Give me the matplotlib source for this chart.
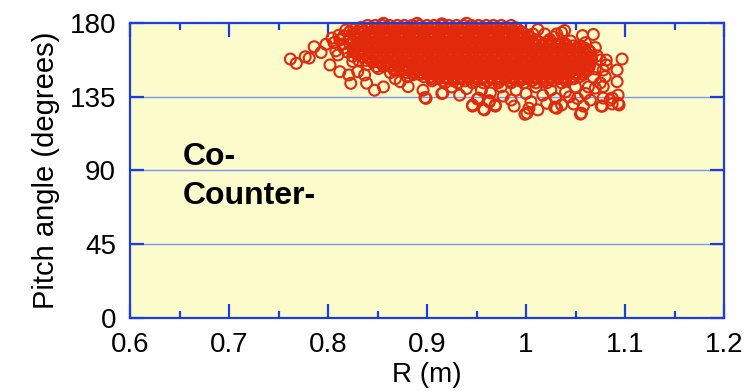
"""
plot.py - pitch angle vs major radius scatter (Co-/Counter- labels).
Saves out.png (753x391).
"""

import numpy as np
import matplotlib
matplotlib.use("Agg")
import matplotlib.pyplot as plt

plt.rcParams["font.family"] = ["Liberation Sans", "DejaVu Sans"]

# -----------------------------------------------------------------------
# Dense core of the cloud: one pitch value per row, R values read per row
CORE_PITCH = [178.5, 177.2, 176, 174.7, 173.5, 172.2, 171, 169.7, 168.5,
              167.2, 166, 164.7, 163.5, 162.2, 161, 159.7, 158.5, 157.2,
              156, 154.7, 153.5, 152.2, 151, 149.7, 148.5, 147.2, 146,
              144.7, 143.5]
CORE_R = [
    # 178.5
    [0.840, 0.848, 0.855, 0.862, 0.870, 0.877, 0.885, 0.892, 0.900, 0.907,
     0.915, 0.922, 0.930, 0.937, 0.945, 0.952, 0.960, 0.967, 0.975, 0.985],
    # 177.2
    [0.833, 0.844, 0.851, 0.859, 0.866, 0.874, 0.881, 0.889, 0.896, 0.904,
     0.911, 0.919, 0.926, 0.934, 0.941, 0.949, 0.956, 0.964, 0.971, 0.979,
     0.989],
    # 176
    [0.826, 0.834, 0.841, 0.849, 0.856, 0.864, 0.871, 0.879, 0.886, 0.894,
     0.901, 0.909, 0.916, 0.924, 0.931, 0.939, 0.946, 0.954, 0.961, 0.969,
     0.976, 0.984, 0.992],
    # 174.7
    [0.822, 0.830, 0.837, 0.845, 0.852, 0.860, 0.867, 0.875, 0.882, 0.890,
     0.897, 0.905, 0.912, 0.920, 0.927, 0.935, 0.942, 0.950, 0.957, 0.965,
     0.972, 0.980, 0.987, 0.995],
    # 173.5
    [0.826, 0.833, 0.841, 0.848, 0.856, 0.863, 0.871, 0.878, 0.886,
     0.893, 0.901, 0.908, 0.916, 0.923, 0.931, 0.938, 0.946, 0.953, 0.961,
     0.968, 0.976, 0.983, 0.991, 0.998],
    # 172.2
    [0.816, 0.829, 0.837, 0.844, 0.852, 0.859, 0.867, 0.874, 0.882,
     0.889, 0.897, 0.904, 0.912, 0.919, 0.927, 0.934, 0.942, 0.949, 0.957,
     0.964, 0.972, 0.979, 0.987, 0.994, 1.002],
    # 171
    [0.822, 0.830, 0.837, 0.845, 0.852, 0.860, 0.867, 0.875, 0.882,
     0.890, 0.897, 0.905, 0.912, 0.920, 0.927, 0.935, 0.942, 0.950, 0.957,
     0.965, 0.972, 0.980, 0.987, 0.995, 1.004],
    # 169.7
    [0.812, 0.822, 0.829, 0.837, 0.844, 0.852, 0.859, 0.867, 0.874, 0.882,
     0.889, 0.897, 0.904, 0.912, 0.919, 0.927, 0.934, 0.942, 0.949, 0.957,
     0.964, 0.972, 0.979, 0.987, 0.994, 1.002, 1.010],
    # 168.5
    [0.826, 0.833, 0.841, 0.848, 0.856, 0.863, 0.871, 0.878, 0.886,
     0.893, 0.901, 0.908, 0.916, 0.923, 0.931, 0.938, 0.946, 0.953, 0.961,
     0.968, 0.976, 0.983, 0.991, 0.998, 1.006, 1.013, 1.021],
    # 167.2
    [0.815, 0.822, 0.829, 0.837, 0.844, 0.852, 0.859, 0.867, 0.874, 0.882,
     0.889, 0.897, 0.904, 0.912, 0.919, 0.927, 0.934, 0.942, 0.949, 0.957,
     0.964, 0.972, 0.979, 0.987, 0.994, 1.002, 1.009, 1.017, 1.024, 1.032,
     1.040],
    # 166
    [0.830, 0.837, 0.845, 0.852, 0.860, 0.867, 0.875, 0.882,
     0.890, 0.897, 0.905, 0.912, 0.920, 0.927, 0.935, 0.942, 0.950, 0.957,
     0.965, 0.972, 0.980, 0.987, 0.995, 1.002, 1.010, 1.017, 1.025, 1.032,
     1.040, 1.047, 1.055],
    # 164.7
    [0.816, 0.826, 0.833, 0.841, 0.848, 0.856, 0.863, 0.871, 0.878, 0.886,
     0.893, 0.901, 0.908, 0.916, 0.923, 0.931, 0.938, 0.946, 0.953, 0.961,
     0.968, 0.976, 0.983, 0.991, 0.998, 1.006, 1.013, 1.021, 1.028, 1.036,
     1.043, 1.051, 1.059],
    # 163.5
    [0.826, 0.833, 0.841, 0.848, 0.856, 0.863, 0.871, 0.878, 0.886,
     0.893, 0.901, 0.908, 0.916, 0.923, 0.931, 0.938, 0.946, 0.953, 0.961,
     0.968, 0.976, 0.983, 0.991, 0.998, 1.006, 1.013, 1.021, 1.028, 1.036,
     1.043, 1.051, 1.058, 1.063],
    # 162.2
    [0.820, 0.826, 0.833, 0.841, 0.848, 0.856, 0.863, 0.871, 0.878, 0.886,
     0.893, 0.901, 0.908, 0.916, 0.923, 0.931, 0.938, 0.946, 0.953, 0.961,
     0.968, 0.976, 0.983, 0.991, 0.998, 1.006, 1.013, 1.021, 1.028, 1.036,
     1.043, 1.051, 1.058, 1.065],
    # 161
    [0.830, 0.837, 0.845, 0.852, 0.860, 0.867, 0.875, 0.882, 0.890,
     0.897, 0.905, 0.912, 0.920, 0.927, 0.935, 0.942, 0.950, 0.957, 0.965,
     0.972, 0.980, 0.987, 0.995, 1.002, 1.010, 1.017, 1.025, 1.032, 1.040,
     1.047, 1.055, 1.062],
    # 159.7
    [0.825, 0.834, 0.841, 0.849, 0.856, 0.864, 0.871, 0.879, 0.886, 0.894,
     0.901, 0.909, 0.916, 0.924, 0.931, 0.939, 0.946, 0.954, 0.961, 0.969,
     0.976, 0.984, 0.991, 0.999, 1.006, 1.014, 1.021, 1.029, 1.036, 1.044,
     1.051, 1.059, 1.066],
    # 158.5
    [0.841, 0.848, 0.856, 0.863, 0.871, 0.878, 0.886, 0.893,
     0.901, 0.908, 0.916, 0.923, 0.931, 0.938, 0.946, 0.953, 0.961, 0.968,
     0.976, 0.983, 0.991, 0.998, 1.006, 1.013, 1.021, 1.028, 1.036, 1.043,
     1.051, 1.058, 1.066],
    # 157.2
    [0.831, 0.838, 0.845, 0.852, 0.860, 0.867, 0.875, 0.882, 0.890, 0.897,
     0.905, 0.912, 0.920, 0.927, 0.935, 0.942, 0.950, 0.957, 0.965, 0.972,
     0.980, 0.987, 0.995, 1.002, 1.010, 1.017, 1.025, 1.032, 1.040, 1.047,
     1.055, 1.062, 1.066],
    # 156
    [0.845, 0.852, 0.860, 0.867, 0.875, 0.882, 0.890, 0.897, 0.905,
     0.912, 0.920, 0.927, 0.935, 0.942, 0.950, 0.957, 0.965, 0.972, 0.980,
     0.987, 0.995, 1.002, 1.010, 1.017, 1.025, 1.032, 1.040, 1.047, 1.055,
     1.062],
    # 154.7
    [0.840, 0.856, 0.864, 0.871, 0.879, 0.886, 0.894, 0.901, 0.909,
     0.916, 0.924, 0.931, 0.939, 0.946, 0.954, 0.961, 0.969, 0.976, 0.984,
     0.991, 0.999, 1.006, 1.014, 1.021, 1.029, 1.036, 1.044, 1.051, 1.059,
     1.064],
    # 153.5
    [0.856, 0.863, 0.871, 0.878, 0.886, 0.893, 0.901, 0.908, 0.916,
     0.923, 0.931, 0.938, 0.946, 0.953, 0.961, 0.968, 0.976, 0.983, 0.991,
     0.998, 1.006, 1.013, 1.021, 1.028, 1.036, 1.043, 1.051, 1.058, 1.064],
    # 152.2
    [0.851, 0.867, 0.875, 0.882, 0.890, 0.897, 0.905, 0.912, 0.920,
     0.927, 0.935, 0.942, 0.950, 0.957, 0.965, 0.972, 0.980, 0.987, 0.995,
     1.002, 1.010, 1.017, 1.025, 1.032, 1.040, 1.047, 1.055, 1.062],
    # 151
    [0.867, 0.875, 0.882, 0.890, 0.897, 0.905, 0.912, 0.920, 0.927,
     0.935, 0.942, 0.950, 0.957, 0.965, 0.972, 0.980, 0.987, 0.995, 1.002,
     1.010, 1.017, 1.025, 1.032, 1.040, 1.047, 1.055, 1.062],
    # 149.7
    [0.863, 0.879, 0.886, 0.894, 0.901, 0.909, 0.916, 0.924, 0.931,
     0.939, 0.946, 0.954, 0.961, 0.969, 0.976, 0.984, 0.991, 0.999, 1.006,
     1.014, 1.021, 1.029, 1.036, 1.044, 1.051, 1.059],
    # 148.5
    [0.886, 0.893, 0.901, 0.908, 0.916, 0.923, 0.931, 0.938,
     0.946, 0.953, 0.961, 0.968, 0.976, 0.983, 0.991, 0.998, 1.006, 1.013,
     1.021, 1.028, 1.036, 1.043, 1.051, 1.058],
    # 147.2
    [0.880, 0.897, 0.904, 0.912, 0.919, 0.927, 0.934, 0.942, 0.949,
     0.957, 0.964, 0.972, 0.979, 0.987, 0.994, 1.002, 1.009, 1.017, 1.024,
     1.032, 1.039, 1.047, 1.054],
    # 146
    [0.905, 0.912, 0.920, 0.927, 0.935, 0.942, 0.950, 0.957,
     0.965, 0.972, 0.980, 0.987, 0.995, 1.002, 1.010, 1.017, 1.025, 1.032,
     1.040, 1.048],
    # 144.7
    [0.905, 0.916, 0.927, 0.938, 0.949, 0.961, 0.972, 0.983, 0.994, 1.006,
     1.017, 1.028, 1.040],
    # 143.5
    [0.918, 0.931, 0.946, 0.957, 0.972, 0.985, 0.998, 1.010, 1.021, 1.036],
]

# Scattered circles around the core
OUT_R = [
    0.762, 0.768, 0.777, 0.781, 0.786, 0.793, 0.798, 0.802, 0.804, 0.808,
    0.812, 0.818, 0.821, 0.823, 0.825, 0.830, 0.837, 0.839, 0.847, 0.849,
    0.856, 0.856, 0.890, 0.915, 0.940,
    0.873, 0.881, 0.868, 0.896, 0.898, 0.899, 0.915, 0.916, 0.933, 0.946,
    0.946, 0.951, 0.952, 0.957, 0.958, 0.963, 0.963, 0.964, 0.969, 0.969,
    0.977, 0.988, 0.999, 1.001, 1.003, 1.012, 1.017, 1.021, 1.029, 1.031,
    1.036, 1.044, 1.048, 1.052, 1.055, 1.056, 1.058, 1.065, 1.070, 1.075,
    1.076, 1.077, 1.078, 1.078, 1.078, 1.075, 1.080, 1.081, 1.085, 1.087,
    1.087, 1.092, 1.092, 1.093, 1.093, 1.094, 1.097, 1.081,
    1.007, 1.019, 1.031, 1.039, 1.036, 1.057, 1.068, 1.045, 1.060, 1.070,
    1.072, 1.070, 1.068, 1.063,
    0.925, 0.940, 0.955, 0.975, 0.990, 1.000, 1.010, 1.025, 1.040, 1.050,
    1.060, 0.985, 1.030, 1.005,
    0.806, 0.810, 0.811, 1.012, 1.024, 1.028,
]
OUT_PITCH = [
    158.0, 155.4, 159.4, 158.6, 165.5, 162.0, 167.0, 154.4, 170.8, 163.0,
    150.3, 175.7, 148.3, 143.2, 156.5, 150.3, 148.3, 143.3, 139.0, 153.4,
    141.0, 179.8, 179.8, 179.5, 179.8,
    144.2, 141.2, 146.0, 139.0, 134.5, 134.0, 137.0, 137.3, 136.0, 129.3,
    130.0, 133.6, 134.2, 127.5, 127.0, 131.8, 132.6, 137.3, 130.0, 129.3,
    135.4, 129.3, 124.3, 125.0, 128.0, 127.0, 136.0, 131.0, 128.6, 128.0,
    130.0, 135.0, 130.6, 134.0, 124.4, 125.0, 129.3, 133.0, 140.3, 143.4,
    129.3, 129.3, 134.2, 141.2, 151.3, 157.4, 147.3, 154.4, 133.0, 130.6,
    134.2, 144.2, 151.3, 136.0, 131.0, 130.0, 158.0, 157.4,
    173.3, 173.3, 173.3, 175.4, 174.2, 172.3, 173.0, 169.0, 168.0, 165.0,
    160.0, 152.0, 147.0, 141.0,
    141.0, 140.0, 139.0, 141.0, 139.0, 137.0, 141.0, 139.0, 138.0, 141.0,
    137.0, 133.0, 134.0, 132.0,
    168.0, 160.5, 172.5, 176.0, 170.0, 171.5,
]

X_TICKS = [0.6, 0.7, 0.8, 0.9, 1.0, 1.1, 1.2]
X_TICK_LABELS = ["0.6", "0.7", "0.8", "0.9", "1", "1.1", "1.2"]
Y_TICKS = [0, 45, 90, 135, 180]

BG = "#fbfbcb"
EDGE = "#1d3ddc"
GRID = "#7d95ef"
RED = "#e12a0c"


# -----------------------------------------------------------------------
def main():
    r_core = np.concatenate([np.array(row) for row in CORE_R])
    p_core = np.concatenate([np.full(len(row), p)
                             for row, p in zip(CORE_R, CORE_PITCH)])
    r_all = np.concatenate([np.array(OUT_R), r_core])
    p_all = np.concatenate([np.array(OUT_PITCH), p_core])

    fig = plt.figure(figsize=(7.53, 3.91), dpi=100)
    ax = fig.add_axes([130 / 753, 1 - 318 / 391, 594 / 753, 295 / 391])
    ax.set_facecolor(BG)

    for y in (45, 90, 135):
        ax.axhline(y, color=GRID, linewidth=1.0, zorder=1)

    ax.scatter(r_all, p_all, s=62, facecolors="none", edgecolors=RED,
               linewidths=1.5, zorder=3, clip_on=False)

    ax.set_xlim(0.6, 1.2)
    ax.set_ylim(0, 180)
    ax.set_xticks(X_TICKS)
    ax.set_xticklabels(X_TICK_LABELS)
    ax.set_xticks(np.array(X_TICKS[:-1]) + 0.05, minor=True)
    ax.set_yticks(Y_TICKS)

    for s in ax.spines.values():
        s.set_color(EDGE)
        s.set_linewidth(1.6)
        s.set_zorder(4)

    ax.tick_params(which="both", direction="in", top=True, right=True,
                   color=EDGE, width=1.6, labelsize=20, labelcolor="black")
    ax.tick_params(which="major", length=10, pad=10)
    ax.tick_params(which="minor", length=5)

    ax.set_xlabel("R (m)", fontsize=20, labelpad=3)
    ax.set_ylabel("Pitch angle (degrees)", fontsize=21, labelpad=7)

    ax.text(0.6535, 98, "Co-", fontsize=23, fontweight="bold",
            ha="left", va="center")
    ax.text(0.6535, 74.5, "Counter-", fontsize=23, fontweight="bold",
            ha="left", va="center")

    fig.savefig("out.png", dpi=100)
    plt.close(fig)


if __name__ == "__main__":
    main()
